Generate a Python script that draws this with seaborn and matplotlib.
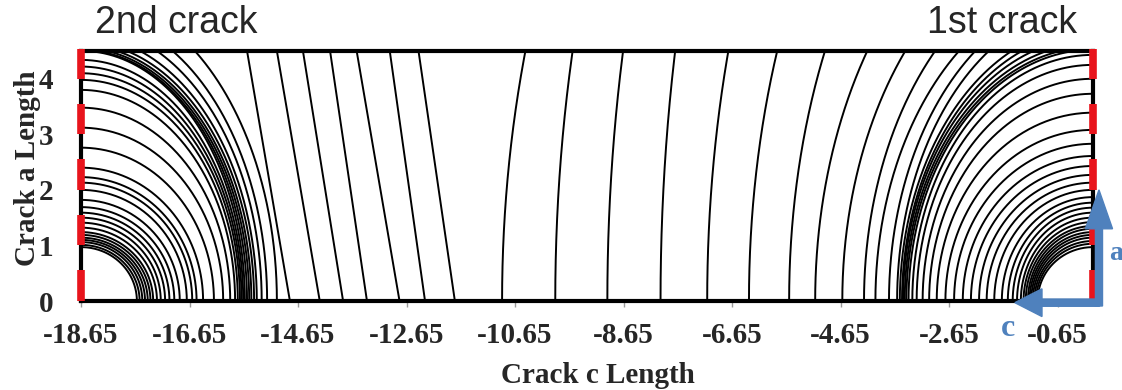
import numpy as np
import pandas as pd
import matplotlib
matplotlib.use("Agg")
import matplotlib.pyplot as plt
import seaborn as sns

# Plate section: surface coordinate c (x) and depth coordinate a (y)
plate_left = -18.65
plate_right = 0.0
thickness = 4.5

x_ticks = [-18.65, -16.65, -14.65, -12.65, -10.65, -8.65, -6.65, -4.65, -2.65, -0.65]
y_ticks = [0, 1, 2, 3, 4]

# ---- 1st crack (grows from the right edge) ----
# part-through fronts: surface length c and depth a
first_c = [1.02, 1.05, 1.08, 1.11, 1.14, 1.17, 1.20, 1.24, 1.28, 1.33, 1.40, 1.48, 1.57,
           1.68, 1.82, 1.96, 2.10, 2.25, 2.40, 2.56, 2.72, 2.88, 3.02, 3.14, 3.25, 3.33]
first_a = [0.97, 1.03, 1.08, 1.14, 1.19, 1.24, 1.30, 1.35, 1.42, 1.50, 1.59, 1.68, 1.77,
           1.87, 2.00, 2.13, 2.27, 2.43, 2.61, 2.83, 3.08, 3.39, 3.73, 4.00, 4.25, 4.43]
# through-thickness fronts: length on the near face (bottom) and on the far face (top)
first_bottom = [3.40, 3.44, 3.47, 3.50, 3.52, 3.56, 3.61, 3.76, 4.01, 4.22, 4.62, 5.12,
                5.60, 6.34, 7.11, 7.97, 8.95, 9.91, 10.89]
first_top = [0.35, 0.60, 0.85, 1.10, 1.31, 1.50, 1.92, 2.17, 2.47, 2.91, 3.46, 4.16,
             4.94, 5.82, 6.72, 7.70, 8.66, 9.59, 10.46]

# ---- 2nd crack (grows from the left edge) ----
second_c = [1.03, 1.08, 1.13, 1.18, 1.23, 1.28, 1.33, 1.40, 1.47, 1.55, 1.63, 1.72, 1.82,
            1.95, 2.05, 2.13, 2.25, 2.45, 2.62, 2.75, 2.84, 2.89, 2.93, 2.96, 2.99]
second_a = [0.97, 1.01, 1.06, 1.10, 1.14, 1.19, 1.24, 1.32, 1.41, 1.50, 1.59, 1.69, 1.82,
            2.00, 2.13, 2.23, 2.40, 2.76, 3.12, 3.48, 3.80, 3.98, 4.10, 4.22, 4.34]
# curved through-thickness fronts
second_bottom = [3.02, 3.06, 3.10, 3.14, 3.19, 3.24, 3.33, 3.43, 3.61]
second_top = [0.11, 0.29, 0.48, 0.66, 0.85, 1.09, 1.40, 1.69, 2.10]
# straight through-thickness fronts
second_straight_bottom = [3.85, 4.40, 4.83, 5.27, 5.87, 6.34, 6.89]
second_straight_top = [3.06, 3.61, 4.09, 4.59, 5.08, 5.69, 6.22]

# Red dashed crack faces on both plate edges
red_dash_starts = [0.0, 1.0, 2.0, 3.0, 4.0]
red_dash_length = 0.55


def ellipse_rows(origin, direction, cs, as_, tag):
    rows = []
    for i, (c, a) in enumerate(zip(cs, as_)):
        theta_max = np.arcsin(min(1.0, thickness / a))
        theta = np.linspace(0.0, theta_max, 160)
        xs = origin + direction * c * np.cos(theta)
        ys = a * np.sin(theta)
        rows += [(f"{tag}{i}", x, y) for x, y in zip(xs, ys)]
    return rows


def through_depths(bottoms, tops):
    # depth semi-axis of the ellipse passing through both face points
    return [thickness / np.sqrt(1.0 - (t / b) ** 2) for b, t in zip(bottoms, tops)]


def straight_rows(origin, direction, bottoms, tops, tag):
    rows = []
    for i, (b, t) in enumerate(zip(bottoms, tops)):
        rows.append((f"{tag}{i}", origin + direction * b, 0.0))
        rows.append((f"{tag}{i}", origin + direction * t, thickness))
    return rows


rows = ellipse_rows(plate_right, -1, first_c, first_a, "f")
rows += ellipse_rows(plate_right, -1, first_bottom,
                     through_depths(first_bottom, first_top), "ft")
rows += ellipse_rows(plate_left, +1, second_c, second_a, "s")
rows += ellipse_rows(plate_left, +1, second_bottom,
                     through_depths(second_bottom, second_top), "st")
rows += straight_rows(plate_left, +1, second_straight_bottom, second_straight_top, "sl")
fronts = pd.DataFrame(rows, columns=["front", "c", "a"])

sns.set_theme(style="white")
plt.rcParams["font.family"] = ["Liberation Serif", "DejaVu Serif"]

fig = plt.figure(figsize=(11.22, 3.90), dpi=100)
ax = fig.add_axes([81 / 1122, 1 - 301 / 390, 1012 / 1122, 250 / 390])

sns.lineplot(data=fronts, x="c", y="a", units="front", estimator=None, sort=False,
             color="black", linewidth=1.4, legend=False, ax=ax)

ax.set_xlim(plate_left, plate_right)
ax.set_ylim(0, thickness)

for side in ["top", "bottom", "left", "right"]:
    ax.spines[side].set_color("black")
    ax.spines[side].set_linewidth(3.0)
    ax.spines[side].set_visible(True)

# red dashes along the crack faces
for x_edge in (plate_left, plate_right):
    ax.vlines([x_edge] * len(red_dash_starts), red_dash_starts,
              [min(s + red_dash_length, thickness + 0.03) for s in red_dash_starts],
              colors="#e8141c", linewidth=5.5, clip_on=False, zorder=5)

ax.set_xticks(x_ticks)
ax.set_xticklabels([f"{v:.2f}" for v in x_ticks])
ax.set_yticks(y_ticks)
ax.tick_params(axis="x", bottom=True, length=4, width=1, color="#9a9a9a",
               pad=11, labelsize=21)
ax.tick_params(axis="y", left=False, length=0, pad=20, labelsize=21)
for lab in ax.get_xticklabels() + ax.get_yticklabels():
    lab.set_fontweight("bold")

ax.set_xlabel("Crack c Length", fontsize=21, fontweight="bold")
ax.set_ylabel("Crack a Length", fontsize=21, fontweight="bold")
ax.xaxis.set_label_coords(0.511, -0.245)
ax.yaxis.set_label_coords(-0.040, 0.53)

# growth-direction arrows at the 1st crack
blue = "#4f81bd"
ax.arrow(0.12, -0.03, -1.56, 0.0, width=0.13, head_width=0.5, head_length=0.5,
         length_includes_head=True, color=blue, clip_on=False, zorder=6)
ax.arrow(0.11, -0.09, 0.0, 2.09, width=0.13, head_width=0.5, head_length=0.7,
         length_includes_head=True, color=blue, clip_on=False, zorder=6)
ax.text(-1.57, -0.49, "c", color=blue, fontsize=23, fontweight="bold",
        ha="center", va="center", clip_on=False)
ax.text(0.29, 0.85, "a", color=blue, fontsize=20, fontweight="bold",
        ha="left", va="center", clip_on=False)

fig.text(95 / 1122, 1 - 33 / 390, "2nd crack", fontsize=27,
         family=["Liberation Sans", "DejaVu Sans"], ha="left", va="baseline")
fig.text(927 / 1122, 1 - 33 / 390, "1st crack", fontsize=27,
         family=["Liberation Sans", "DejaVu Sans"], ha="left", va="baseline")

fig.savefig("out.png", dpi=100)
